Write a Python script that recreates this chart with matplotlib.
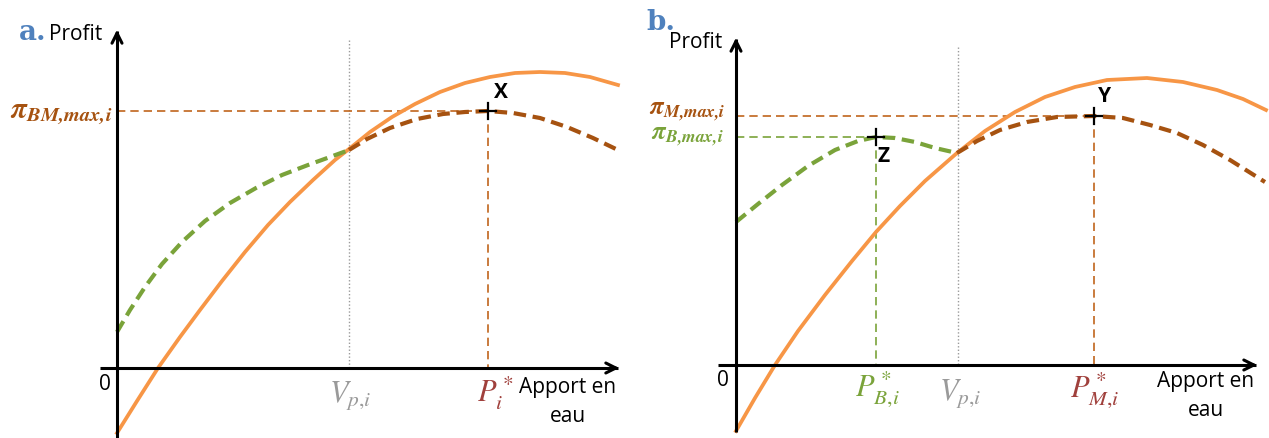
import matplotlib
matplotlib.use("Agg")
import matplotlib.pyplot as plt

plt.rcParams['mathtext.fontset'] = 'stix'

# Colours
ORANGE = '#F79646'
BROWN = '#A65210'
BROWN_THIN = '#C0651C'
GREEN = '#7AA33A'
DARKRED = '#A0403C'
GREY = '#9A9A9A'
BLUE = '#4F81BD'

# ---- panel a (coordinates, pixel units) ----
a_orange_x = [117, 137, 158, 180, 200, 222, 245, 268, 290, 313, 335, 349, 370,
              392, 415, 440, 465, 490, 515, 540, 565, 590, 618]
a_orange_y = [433, 401, 368, 337, 310, 281, 252, 225, 202, 180, 160, 149, 132,
              117, 104, 92, 83, 77, 73, 72, 73, 77, 85]
a_green_x = [117, 130, 145, 162, 182, 205, 230, 256, 282, 308, 330, 349]
a_green_y = [332, 310, 287, 264, 242, 221, 203, 188, 175, 165, 157, 150]
a_brown_x = [349, 367, 390, 417, 443, 465, 488, 513, 540, 567, 593, 618]
a_brown_y = [150, 139, 128, 119, 114, 112, 111, 113, 118, 127, 138, 150]
a_origin = (117, 368)
a_vp = 349
a_opt = (488, 111)

# ---- panel b ----
b_orange_x = [736, 755, 775, 798, 825, 852, 876, 900, 925, 957, 985, 1015, 1045,
              1075, 1107, 1147, 1183, 1217, 1243, 1266]
b_orange_y = [431, 398, 365, 331, 295, 261, 232, 206, 181, 153, 131, 112, 97,
              87, 80, 78, 82, 90, 99, 110]
b_green_x = [736, 758, 782, 808, 835, 858, 876, 895, 915, 935, 957]
b_green_y = [222, 204, 185, 166, 150, 141, 137, 138, 142, 148, 153]
b_brown_x = [957, 977, 1000, 1027, 1057, 1094, 1123, 1150, 1177, 1203, 1230, 1265]
b_brown_y = [153, 141, 130, 122, 117, 116, 118, 125, 133, 145, 160, 182]
b_origin = (736, 365)
b_vp = 958
b_opt_m = (1094, 116)
b_opt_b = (876, 137)

fig = plt.figure(figsize=(12.69, 4.38), dpi=100)
ax = fig.add_axes([0, 0, 1, 1])
ax.set_xlim(0, 1269)
ax.set_ylim(438, 0)
ax.axis('off')

sans = 'Open Sans'
thick_dash = (0, (3, 1.6))
thin_dash = (0, (5, 3))


def axes_arrows(ox, oy, x0, x1, ytop, ybot):
    ax.plot([ox, ox], [ybot, ytop + 4], color='black', lw=2.2, solid_capstyle='butt', zorder=5)
    ax.plot([x0, x1 - 4], [oy, oy], color='black', lw=2.2, solid_capstyle='butt', zorder=5)
    ax.annotate('', xy=(ox, ytop), xytext=(ox, ytop + 15),
                arrowprops=dict(arrowstyle='->', lw=2.2, color='black', mutation_scale=18), zorder=6)
    ax.annotate('', xy=(x1, oy), xytext=(x1 - 15, oy),
                arrowprops=dict(arrowstyle='->', lw=2.2, color='black', mutation_scale=18), zorder=6)


def cross(x, y):
    ax.plot([x - 8, x + 8], [y, y], color='black', lw=1.6, zorder=7)
    ax.plot([x, x], [y - 8, y + 8], color='black', lw=1.6, zorder=7)


# ===== panel a =====
ox, oy = a_origin
ax.plot([a_vp, a_vp], [40, oy], color=GREY, lw=1.0, ls=(0, (1, 1.5)))
ax.plot(a_orange_x, a_orange_y, color=ORANGE, lw=2.7, zorder=3)
ax.plot(a_green_x, a_green_y, color=GREEN, lw=3, ls=thick_dash, zorder=4)
ax.plot(a_brown_x, a_brown_y, color=BROWN, lw=3, ls=thick_dash, zorder=4)
ax.plot([ox, a_opt[0]], [a_opt[1], a_opt[1]], color=BROWN_THIN, lw=1.2, ls=thin_dash)
ax.plot([a_opt[0], a_opt[0]], [a_opt[1], oy], color=BROWN_THIN, lw=1.2, ls=thin_dash)
axes_arrows(ox, oy, 100, 622, 27, 438)
cross(*a_opt)

ax.text(19, 33, 'a.', color=BLUE, fontsize=20, fontweight='bold', family='DejaVu Serif', va='center')
ax.text(49, 35, 'Profit', fontsize=15, family=sans, va='center')
ax.text(112, 113, r'$\mathbfit{\pi}_{\mathbfit{BM{,}max{,}i}}$', color=BROWN, fontsize=21,
        ha='right', va='center')
ax.text(501, 93, 'X', fontsize=15, fontweight='bold', family=sans, ha='center', va='center')
ax.text(105, 385, '0', fontsize=15, family=sans, ha='center', va='center')
ax.text(350, 396, r'$V_{p{,}i}$', color=GREY, fontsize=22, ha='center', va='center')
ax.text(495, 393, r'$P_i^*$', color=DARKRED, fontsize=22, ha='center', va='center')
ax.text(568, 387, 'Apport en', fontsize=15, family=sans, ha='center', va='center')
ax.text(568, 416, 'eau', fontsize=15, family=sans, ha='center', va='center')

# ===== panel b =====
ox, oy = b_origin
ax.plot([b_vp, b_vp], [47, oy], color=GREY, lw=1.0, ls=(0, (1, 1.5)))
ax.plot(b_orange_x, b_orange_y, color=ORANGE, lw=2.7, zorder=3)
ax.plot(b_green_x, b_green_y, color=GREEN, lw=3, ls=thick_dash, zorder=4)
ax.plot(b_brown_x, b_brown_y, color=BROWN, lw=3, ls=thick_dash, zorder=4)
ax.plot([ox, b_opt_m[0]], [b_opt_m[1], b_opt_m[1]], color=BROWN_THIN, lw=1.2, ls=thin_dash)
ax.plot([b_opt_m[0], b_opt_m[0]], [b_opt_m[1], oy], color=BROWN_THIN, lw=1.2, ls=thin_dash)
ax.plot([ox, b_opt_b[0]], [b_opt_b[1], b_opt_b[1]], color=GREEN, lw=1.2, ls=thin_dash)
ax.plot([b_opt_b[0], b_opt_b[0]], [b_opt_b[1], oy], color=GREEN, lw=1.2, ls=thin_dash)
axes_arrows(ox, oy, 718, 1260, 35, 432)
cross(*b_opt_m)
cross(*b_opt_b)

ax.text(646, 23, 'b.', color=BLUE, fontsize=20, fontweight='bold', family='DejaVu Serif', va='center')
ax.text(669, 43, 'Profit', fontsize=15, family=sans, va='center')
ax.text(726, 111, r'$\mathbfit{\pi}_{\mathbfit{M{,}max{,}i}}$', color=BROWN, fontsize=18,
        ha='right', va='center')
ax.text(724, 136, r'$\mathbfit{\pi}_{\mathbfit{B{,}max{,}i}}$', color=GREEN, fontsize=18,
        ha='right', va='center')
ax.text(1104, 97, 'Y', fontsize=15, fontweight='bold', family=sans, ha='center', va='center')
ax.text(884, 156, 'Z', fontsize=15, fontweight='bold', family=sans, ha='center', va='center')
ax.text(723, 381, '0', fontsize=15, family=sans, ha='center', va='center')
ax.text(877, 390, r'$P_{B{,}i}^*$', color=GREEN, fontsize=22, ha='center', va='center')
ax.text(960, 393, r'$V_{p{,}i}$', color=GREY, fontsize=22, ha='center', va='center')
ax.text(1095, 391, r'$P_{M{,}i}^*$', color=DARKRED, fontsize=22, ha='center', va='center')
ax.text(1206, 382, 'Apport en', fontsize=15, family=sans, ha='center', va='center')
ax.text(1206, 410, 'eau', fontsize=15, family=sans, ha='center', va='center')

fig.savefig('out.png', dpi=100)
